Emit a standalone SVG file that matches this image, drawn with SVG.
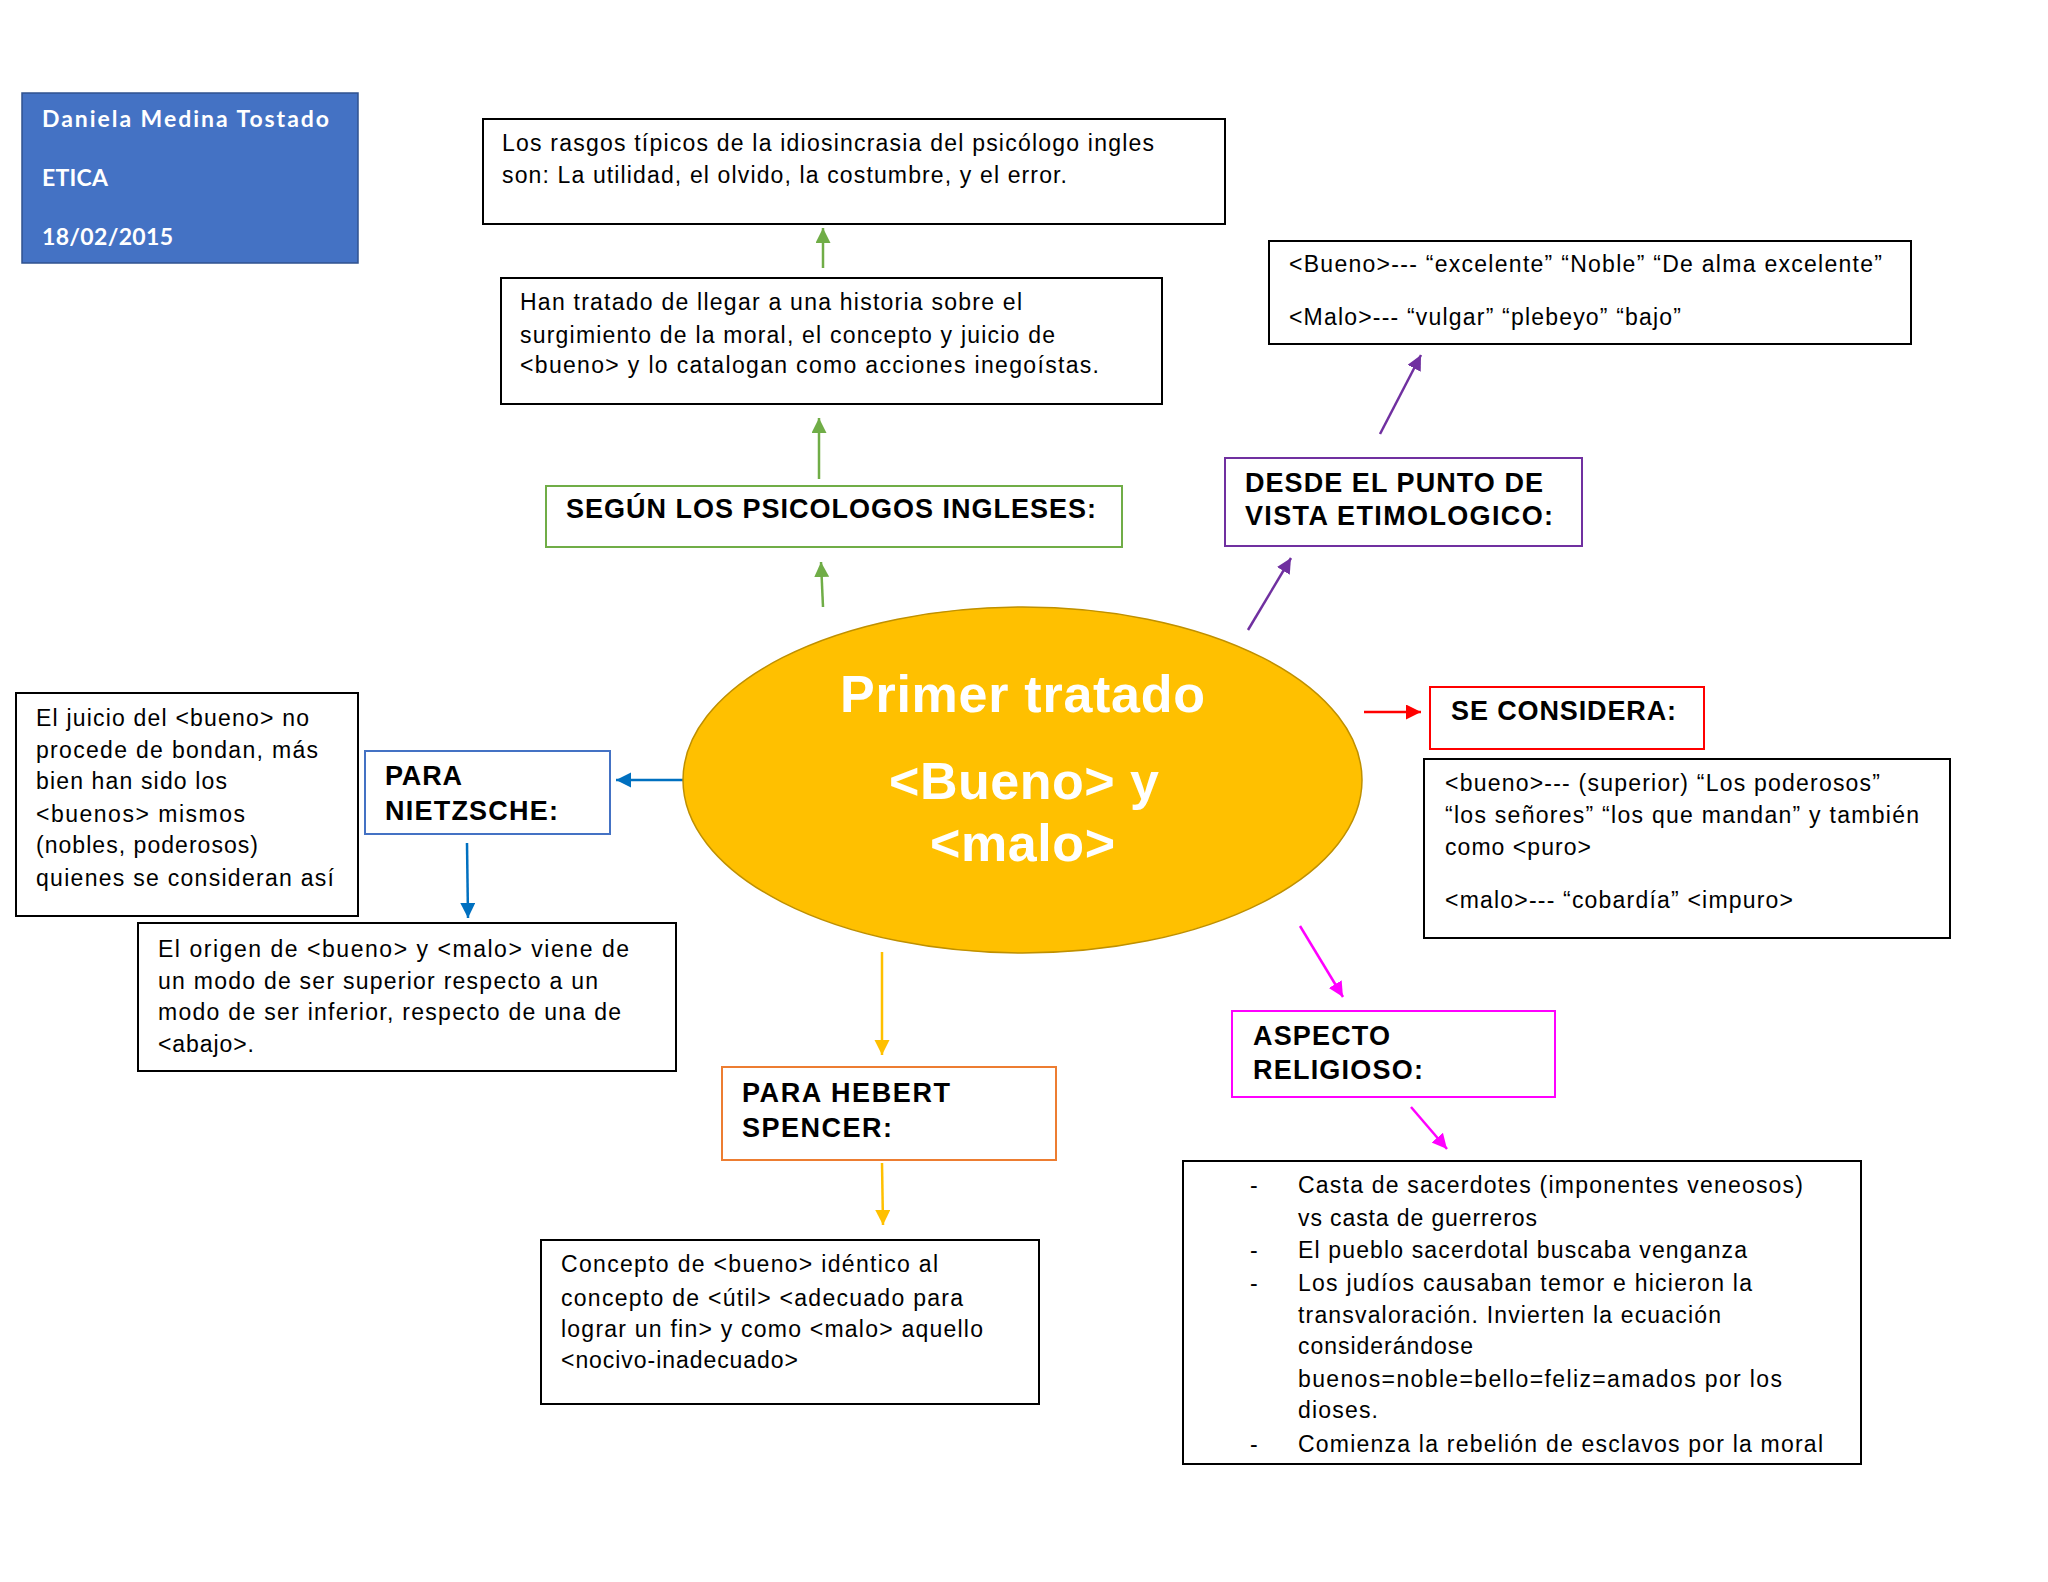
<svg xmlns="http://www.w3.org/2000/svg" width="2048" height="1582" viewBox="0 0 2048 1582">
<style>
.box{fill:#fff;stroke:#000;stroke-width:2}
.t{font-family:"Liberation Sans",Arial,sans-serif;font-size:23px;fill:#000}
.h{font-family:"Liberation Sans",Arial,sans-serif;font-size:27px;font-weight:bold;fill:#000}
.n{font-family:Lato,"Open Sans",sans-serif;font-size:23px;font-weight:bold;fill:#fff}
.c{font-family:"Liberation Sans",Arial,sans-serif;font-weight:bold;fill:#fff;font-size:52px}
.a{fill:none;stroke-width:2.5}
</style>
<defs>
<marker id="mg" markerUnits="userSpaceOnUse" markerWidth="16" markerHeight="16" refX="15" refY="7.5" orient="auto"><path d="M0,0 L15,7.5 L0,15 z" fill="#70AD47"/></marker>
<marker id="mp" markerUnits="userSpaceOnUse" markerWidth="16" markerHeight="16" refX="15" refY="7.5" orient="auto"><path d="M0,0 L15,7.5 L0,15 z" fill="#7030A0"/></marker>
<marker id="mr" markerUnits="userSpaceOnUse" markerWidth="16" markerHeight="16" refX="15" refY="7.5" orient="auto"><path d="M0,0 L15,7.5 L0,15 z" fill="#FF0000"/></marker>
<marker id="mb" markerUnits="userSpaceOnUse" markerWidth="16" markerHeight="16" refX="15" refY="7.5" orient="auto"><path d="M0,0 L15,7.5 L0,15 z" fill="#0070C0"/></marker>
<marker id="mm" markerUnits="userSpaceOnUse" markerWidth="16" markerHeight="16" refX="15" refY="7.5" orient="auto"><path d="M0,0 L15,7.5 L0,15 z" fill="#FF00FF"/></marker>
<marker id="my" markerUnits="userSpaceOnUse" markerWidth="16" markerHeight="16" refX="15" refY="7.5" orient="auto"><path d="M0,0 L15,7.5 L0,15 z" fill="#FFC000"/></marker>
</defs>
<rect width="2048" height="1582" fill="#fff"/>

<g id="connectors">
<line class="a" x1="823" y1="268" x2="823" y2="228" stroke="#70AD47" marker-end="url(#mg)"/>
<line class="a" x1="819" y1="479" x2="819" y2="418" stroke="#70AD47" marker-end="url(#mg)"/>
<line class="a" x1="823" y1="607" x2="821" y2="562" stroke="#70AD47" marker-end="url(#mg)"/>
<line class="a" x1="1380" y1="434" x2="1421" y2="355" stroke="#7030A0" marker-end="url(#mp)"/>
<line class="a" x1="1248" y1="630" x2="1291" y2="558" stroke="#7030A0" marker-end="url(#mp)"/>
<line class="a" x1="1364" y1="712" x2="1421" y2="712" stroke="#FF0000" marker-end="url(#mr)"/>
<line class="a" x1="685" y1="780" x2="616" y2="780" stroke="#0070C0" marker-end="url(#mb)"/>
<line class="a" x1="467" y1="843" x2="468" y2="918" stroke="#0070C0" marker-end="url(#mb)"/>
<line class="a" x1="1300" y1="926" x2="1343" y2="997" stroke="#FF00FF" marker-end="url(#mm)"/>
<line class="a" x1="1411" y1="1107" x2="1447" y2="1149" stroke="#FF00FF" marker-end="url(#mm)"/>
<line class="a" x1="882" y1="952" x2="882" y2="1055" stroke="#FFC000" marker-end="url(#my)"/>
<line class="a" x1="882" y1="1163" x2="883" y2="1225" stroke="#FFC000" marker-end="url(#my)"/>
</g>

<g id="author">
<rect x="22" y="93" width="336" height="170" fill="#4472C4" stroke="#2F528F" stroke-width="1.5"/>
<text class="n" x="42" y="127" textLength="287">Daniela Medina Tostado</text>
<text class="n" x="42" y="186" textLength="66">ETICA</text>
<text class="n" x="42" y="245" textLength="131">18/02/2015</text>
</g>

<g id="rasgos">
<rect class="box" x="483" y="119" width="742" height="105"/>
<text class="t" x="502" y="151" textLength="652">Los rasgos típicos de la idiosincrasia del psicólogo ingles</text>
<text class="t" x="502" y="183" textLength="565">son: La utilidad, el olvido,  la costumbre, y el error.</text>
</g>

<g id="historia">
<rect class="box" x="501" y="278" width="661" height="126"/>
<text class="t" x="520" y="310" textLength="502">Han tratado de llegar a una historia sobre el</text>
<text class="t" x="520" y="343" textLength="535">surgimiento de la moral, el concepto y juicio de</text>
<text class="t" x="520" y="373" textLength="579">&lt;bueno&gt; y lo catalogan como acciones inegoístas.</text>
</g>

<g id="segun">
<rect x="546" y="486" width="576" height="61" fill="#fff" stroke="#70AD47" stroke-width="2"/>
<text class="h" x="566" y="518" textLength="530">SEGÚN LOS PSICOLOGOS INGLESES:</text>
</g>

<g id="etimologia">
<rect class="box" x="1269" y="241" width="642" height="103"/>
<text class="t" x="1289" y="272" textLength="593">&lt;Bueno&gt;--- “excelente” “Noble” “De alma excelente”</text>
<text class="t" x="1289" y="325" textLength="392">&lt;Malo&gt;--- “vulgar” “plebeyo” “bajo”</text>
</g>

<g id="desde">
<rect x="1225" y="458" width="357" height="88" fill="#fff" stroke="#7030A0" stroke-width="2"/>
<text class="h" x="1245" y="492" textLength="298">DESDE EL PUNTO DE</text>
<text class="h" x="1245" y="525" textLength="308">VISTA ETIMOLOGICO:</text>
</g>

<g id="centro">
<ellipse cx="1022.5" cy="780" rx="339.5" ry="173" fill="#FFC000" stroke="#BF9000" stroke-width="1.5"/>
<text class="c" x="840" y="712" textLength="365">Primer tratado</text>
<text class="c" x="889" y="799" textLength="270">&lt;Bueno&gt; y</text>
<text class="c" x="930" y="861" textLength="185">&lt;malo&gt;</text>
</g>

<g id="seconsidera">
<rect x="1430" y="687" width="274" height="62" fill="#fff" stroke="#FF0000" stroke-width="2"/>
<text class="h" x="1451" y="720" textLength="225">SE CONSIDERA:</text>
</g>

<g id="considera-texto">
<rect class="box" x="1424" y="759" width="526" height="179"/>
<text class="t" x="1445" y="791" textLength="435">&lt;bueno&gt;--- (superior) “Los poderosos”</text>
<text class="t" x="1445" y="823" textLength="474">“los señores” “los que mandan” y también</text>
<text class="t" x="1445" y="855" textLength="146">como &lt;puro&gt;</text>
<text class="t" x="1445" y="908" textLength="348">&lt;malo&gt;--- “cobardía” &lt;impuro&gt;</text>
</g>

<g id="juicio">
<rect class="box" x="16" y="693" width="342" height="223"/>
<text class="t" x="36" y="726" textLength="273">El juicio del &lt;bueno&gt;  no</text>
<text class="t" x="36" y="758" textLength="282">procede de bondan, más</text>
<text class="t" x="36" y="789" textLength="191">bien han sido los</text>
<text class="t" x="36" y="822" textLength="209">&lt;buenos&gt; mismos</text>
<text class="t" x="36" y="853" textLength="222">(nobles, poderosos)</text>
<text class="t" x="36" y="886" textLength="298">quienes se consideran así</text>
</g>

<g id="nietzsche">
<rect x="365" y="751" width="245" height="83" fill="#fff" stroke="#4472C4" stroke-width="2"/>
<text class="h" x="385" y="785" textLength="77">PARA</text>
<text class="h" x="385" y="820" textLength="173">NIETZSCHE:</text>
</g>

<g id="origen">
<rect class="box" x="138" y="923" width="538" height="148"/>
<text class="t" x="158" y="957" textLength="471">El origen de &lt;bueno&gt; y &lt;malo&gt;  viene de</text>
<text class="t" x="158" y="989" textLength="440">un modo de ser superior respecto a un</text>
<text class="t" x="158" y="1020" textLength="463">modo de ser inferior, respecto de una de</text>
<text class="t" x="158" y="1052" textLength="96">&lt;abajo&gt;.</text>
</g>

<g id="spencer">
<rect x="722" y="1067" width="334" height="93" fill="#fff" stroke="#ED7D31" stroke-width="2"/>
<text class="h" x="742" y="1102" textLength="208">PARA HEBERT</text>
<text class="h" x="742" y="1137" textLength="150">SPENCER:</text>
</g>

<g id="concepto">
<rect class="box" x="541" y="1240" width="498" height="164"/>
<text class="t" x="561" y="1272" textLength="377">Concepto de &lt;bueno&gt;  idéntico al</text>
<text class="t" x="561" y="1306" textLength="402">concepto de &lt;útil&gt; &lt;adecuado para</text>
<text class="t" x="561" y="1337" textLength="422">lograr un fin&gt; y como &lt;malo&gt; aquello</text>
<text class="t" x="561" y="1368" textLength="237">&lt;nocivo-inadecuado&gt;</text>
</g>

<g id="religioso">
<rect x="1232" y="1011" width="323" height="86" fill="#fff" stroke="#FF00FF" stroke-width="2"/>
<text class="h" x="1253" y="1045" textLength="137">ASPECTO</text>
<text class="h" x="1253" y="1079" textLength="170">RELIGIOSO:</text>
</g>

<g id="religioso-texto">
<rect class="box" x="1183" y="1161" width="678" height="303"/>
<text class="t" x="1250" y="1193">-</text>
<text class="t" x="1298" y="1193" textLength="505">Casta de sacerdotes (imponentes veneosos)</text>
<text class="t" x="1298" y="1226" textLength="239">vs casta de guerreros</text>
<text class="t" x="1250" y="1258">-</text>
<text class="t" x="1298" y="1258" textLength="449">El pueblo sacerdotal buscaba venganza</text>
<text class="t" x="1250" y="1291">-</text>
<text class="t" x="1298" y="1291" textLength="454">Los judíos causaban temor e hicieron la</text>
<text class="t" x="1298" y="1323" textLength="423">transvaloración.  Invierten  la ecuación</text>
<text class="t" x="1298" y="1354" textLength="175">considerándose</text>
<text class="t" x="1298" y="1387" textLength="484">buenos=noble=bello=feliz=amados  por los</text>
<text class="t" x="1298" y="1418" textLength="80">dioses.</text>
<text class="t" x="1250" y="1452">-</text>
<text class="t" x="1298" y="1452" textLength="525">Comienza la rebelión de esclavos por la moral</text>
</g>
</svg>
